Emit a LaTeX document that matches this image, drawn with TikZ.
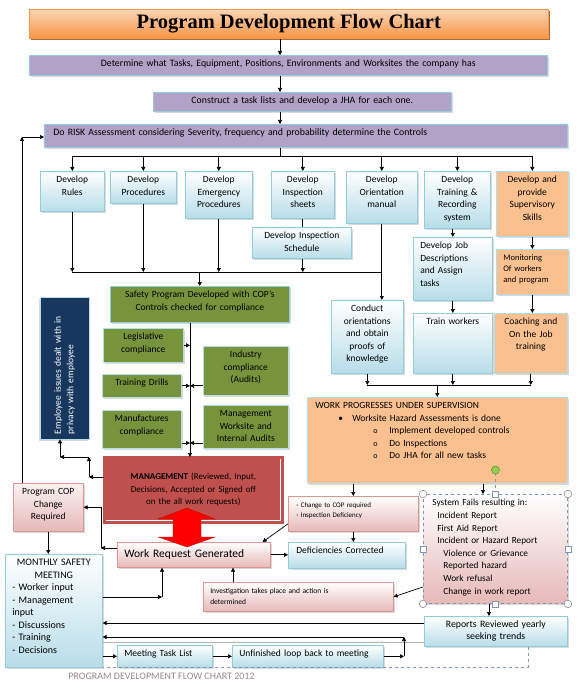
\documentclass[tikz,border=0pt]{standalone}
\usepackage{fontspec}
\setmainfont{Carlito}
\newfontfamily\titlefont{Liberation Serif}
\usetikzlibrary{arrows.meta,positioning,shadows,calc}
\definecolor{flowblue}{HTML}{B7DDE8}
\definecolor{flowedge}{HTML}{93CDDD}
\definecolor{flowpurple}{HTML}{B3A2C7}
\definecolor{floworange}{HTML}{FAC090}
\definecolor{flowgreen}{HTML}{77933C}
\definecolor{flownavy}{HTML}{17375E}
\definecolor{flowred}{HTML}{C0504D}
\definecolor{flowpink}{HTML}{E6B9B8}
\definecolor{flowpinkedge}{HTML}{D99694}
\definecolor{flowtitle}{HTML}{F79646}
\definecolor{flowtitlelight}{HTML}{FCD5B5}
\definecolor{flowtitledark}{HTML}{984807}
\definecolor{flowdash}{HTML}{7F95B3}
\definecolor{flowfoot}{HTML}{948A8A}
\definecolor{flowdot}{HTML}{92D050}
\tikzset{
  sz/.style 2 args={text width=#1-6pt, text height=8.5pt, text depth=#2-14.5pt},
  base/.style={inner xsep=3pt, inner ysep=3pt, align=center, line width=0.6pt, font=\fontsize{9.5}{12.5}\selectfont},
  shad/.style={drop shadow={shadow xshift=1.5pt, shadow yshift=-1.5pt, opacity=0.3}},
  cell/.style={base, shad, anchor=north west},
  bluebox/.style={cell, draw=flowedge, top color=white, bottom color=flowblue},
  purplebox/.style={cell, draw=flowedge, fill=flowpurple, font=\fontsize{9.8}{11}\selectfont},
  orangebox/.style={cell, draw=flowblue, fill=floworange},
  greenbox/.style={cell, draw=flowblue, fill=flowgreen},
  pinkbox/.style={cell, draw=flowpinkedge, top color=flowpink!20, bottom color=flowpink},
  navybox/.style={base, draw=flowblue, fill=flownavy, text=white},
  arrow/.style={-{Triangle[length=4pt,width=4pt]}, line width=0.7pt, draw=black},
  line/.style={line width=0.7pt, draw=black},
  grayline/.style={line width=0.9pt, draw=black!30},
  dashline/.style={dashed, line width=0.6pt, draw=flowdash},
  handle/.style={fill=white, draw=black!45, line width=0.6pt}
}
\begin{document}
\begin{tikzpicture}[x=1pt, y=-1pt]
  \useasboundingbox (0,0) rectangle (579,687);

  \node[base, anchor=north west, draw=flowtitle, top color=flowtitlelight, bottom color=flowtitle, minimum width=519pt, minimum height=29pt,
        drop shadow={shadow xshift=2pt, shadow yshift=-2pt, fill=flowtitledark, opacity=0.8},
        font=\titlefont\bfseries\fontsize{20.5}{24}\selectfont] (title) at (29,9) {Program Development Flow Chart};

  \node[purplebox, sz={518pt}{20pt}] (tasks) at (29,55) {Determine  what Tasks, Equipment,  Positions,  Environments  and Worksites  the company has};
  \node[purplebox, sz={298pt}{19pt}] (jha) at (153,92) {Construct  a task lists and develop a JHA for each one.};
  \node[purplebox, sz={523pt}{23pt}, align=left, inner xsep=9pt, text width=505pt] (risk) at (44,124) {Do RISK Assessment considering  Severity, frequency and probability determine the Controls};

  \node[bluebox, sz={64pt}{40pt}] (rules) at (40,171) {Develop\\Rules};
  \node[bluebox, sz={66pt}{32pt}] (procs) at (110,171) {Develop\\Procedures};
  \node[bluebox, sz={67pt}{47pt}] (emerg) at (185,171) {Develop\\Emergency\\Procedures};
  \node[bluebox, sz={63pt}{47pt}] (insp) at (271,171) {Develop\\Inspection\\sheets};
  \node[bluebox, sz={99pt}{31pt}] (sched) at (252,227) {Develop Inspection\\Schedule};
  \node[bluebox, sz={71pt}{52pt}] (orient) at (346,171) {Develop\\Orientation\\manual};
  \node[bluebox, sz={66pt}{57pt}] (train) at (424,171) {Develop\\Training \&\\Recording\\system};
  \node[orangebox, sz={72pt}{65pt}] (superv) at (496,171) {Develop and\\provide\\Supervisory\\Skills};
  \node[bluebox, sz={79pt}{63pt}, align=left, inner xsep=7pt, text width=65pt] (jobs) at (413,237) {Develop Job\\Descriptions\\and Assign\\tasks};
  \node[orangebox, sz={72pt}{45pt}, align=left, inner xsep=7pt, text width=58pt, font=\fontsize{8.5}{11}\selectfont] (monit) at (496,249) {Monitoring\\Of workers\\and program};
  \node[bluebox, sz={72pt}{73pt}] (conduct) at (331,300) {Conduct\\orientations\\and obtain\\proofs of\\knowledge};
  \node[bluebox, sz={79pt}{60pt}] (trainw) at (413,313) {Train workers};
  \node[orangebox, sz={73pt}{60pt}] (coach) at (494,313) {Coaching  and\\On the Job\\training};
  \node[orangebox, sz={260pt}{86pt}, align=left, inner xsep=8pt, text width=244pt] (work) at (307,397) {WORK PROGRESSES UNDER  SUPERVISION\\
    \hspace*{23pt}\makebox[14pt][l]{\textbullet}Worksite Hazard Assessments is done\\
    \hspace*{58pt}\makebox[16pt][l]{\footnotesize o}Implement developed controls\\
    \hspace*{58pt}\makebox[16pt][l]{\footnotesize o}Do Inspections\\
    \hspace*{58pt}\makebox[16pt][l]{\footnotesize o}Do JHA for all new tasks};

  \node[greenbox, sz={179pt}{36pt}, draw=flowedge] (safety) at (110,286) {Safety Program Developed  with COP's\\Controls  checked  for compliance};
  \node[greenbox, sz={80pt}{34pt}] (legis) at (103,328) {Legislative\\compliance};
  \node[greenbox, sz={85pt}{49pt}] (indus) at (203,346) {Industry\\compliance\\(Audits)};
  \node[greenbox, sz={79pt}{23pt}] (drills) at (102,374) {Training Drills};
  \node[greenbox, sz={79pt}{38pt}] (manuf) at (102,410) {Manufactures\\compliance};
  \node[greenbox, sz={85pt}{43pt}] (mgmtaud) at (203,405) {Management\\Worksite and\\Internal Audits};
  \node[navybox, rotate=90, minimum width=142pt, minimum height=49pt, text width=132pt, align=left,
        drop shadow={shadow xshift=-1.5pt, shadow yshift=-1.5pt, opacity=0.3}] (emp) at (64.5,368) {Employee  issues dealt with in\\privacy with employee};

  \node[base, anchor=north west, fill=flowred, draw=white, double=flowred, double distance=2.5pt, line width=0.7pt,
        minimum width=178pt, minimum height=65pt, text width=170pt, shad, font=\fontsize{9}{12.5}\selectfont] (mgmt) at (104,457)
        {\textbf{MANAGEMENT} (Reviewed,  Input,\\Decisions,  Accepted  or Signed off\\on the all work requests)};
  \node[pinkbox, minimum width=153pt, minimum height=25pt, text width=139pt, inner xsep=7pt, align=left, top color=white,
        font=\fontsize{11.5}{13}\selectfont] (wrg) at (117,542) {Work Request Generated};
  \node[pinkbox, sz={70pt}{48pt}] (pcop) at (13,483) {Program COP\\Change\\Required};
  \node[bluebox, sz={97pt}{113pt}, text width=83pt, inner xsep=7pt, align=left, font=\fontsize{10}{12.5}\selectfont] (monthly) at (5,554)
        {\makebox[83pt]{MONTHLY SAFETY}\\\makebox[83pt]{MEETING}\\- Worker input\\- Management\\input\\- Discussions\\- Training\\- Decisions};
  \node[pinkbox, sz={130pt}{35pt}, text width=114pt, inner xsep=8pt, align=left, top color=white, font=\fontsize{7}{10}\selectfont] (change) at (288,496)
        {- Change to COP required\\- Inspection  Deficiency};
  \node[bluebox, sz={117pt}{26pt}, text width=101pt, inner xsep=8pt, align=left] (defic) at (288,542) {Deficiencies  Corrected};
  \node[pinkbox, sz={190pt}{29pt}, text width=176pt, inner xsep=7pt, align=left, top color=white, font=\fontsize{7.5}{11}\selectfont] (invest) at (203,582)
        {Investigation takes place and action is\\determined};
  \node[pinkbox, sz={144pt}{109pt}, text width=126pt, inner xsep=9pt, align=left, top color=white, draw=flowdash, dashed, line width=0.9pt,
        font=\fontsize{9.3}{12.6}\selectfont] (sysf) at (423,494)
        {System Fails resulting  in:\\
         \hspace*{5pt}Incident  Report\\
         \hspace*{5pt}First Aid Report\\
         \hspace*{5pt}Incident or Hazard Report\\
         \hspace*{11pt}Violence or Grievance\\
         \hspace*{11pt}Reported  hazard\\
         \hspace*{11pt}Work refusal\\
         \hspace*{11pt}Change in work report};
  \node[bluebox, sz={143pt}{30pt}, font=\fontsize{9.8}{12}\selectfont] (reports) at (424,616) {Reports  Reviewed  yearly\\seeking trends};
  \node[bluebox, sz={95pt}{22pt}, text width=81pt, inner xsep=7pt, align=left] (tasklist) at (117,645) {Meeting Task List};
  \node[bluebox, sz={151pt}{22pt}, text width=137pt, inner xsep=7pt, align=left] (unfin) at (232,645) {Unfinished  loop  back to meeting};
  \node[text=flowfoot, font=\fontsize{10}{12}\selectfont] (footer) at (161.5,676) {PROGRAM DEVELOPMENT  FLOW CHART 2012};

  \coordinate (spine) at (280,0);
  \coordinate (bus) at (280,156);
  \draw[arrow] (title.south -| spine) -- (tasks.north -| spine);
  \draw[arrow] (tasks.south -| spine) -- (jha.north -| spine);
  \draw[arrow] (jha.south -| spine) -- (risk.north -| spine);
  \draw[line] (risk.south -| spine) -- (bus);
  \draw[line] (bus -| rules) -- (bus -| superv);
  \foreach \n in {rules,procs,emerg,insp,orient,train,superv}
    \draw[arrow] (bus -| \n) -- (\n.north);

  \coordinate (busb) at (0,272);
  \draw[line] (busb -| rules) -- (busb -| orient);
  \foreach \n in {rules,procs,emerg}
    \draw[arrow] (\n.south) -- (busb -| \n);
  \draw[line] (insp.south) -- (sched.north -| insp.south);
  \draw[arrow] (sched.south -| insp) -- (busb -| insp);
  \draw[arrow] (orient.south) -- (conduct.north -| orient.south);
  \draw[arrow] (busb -| safety) -- (safety.north);
  \draw[arrow] (train.south -| jobs) -- (jobs.north);
  \draw[arrow] (superv.south) -- (monit.north);
  \draw[arrow] (jobs.south) -- (trainw.north);
  \draw[arrow] (monit.south) -- (coach.north -| monit.south);

  \coordinate (busc) at (0,385);
  \foreach \n in {conduct,trainw,coach}
    \draw[arrow] (\n.south) -- (busc -| \n);
  \draw[line] (busc -| conduct) -- (busc -| coach);
  \draw[arrow] (busc -| work) -- (work.north);

  \coordinate (cspine) at (190,0);
  \coordinate (manufy) at (0,443);
  \draw[arrow] (safety.south -| cspine) -- (mgmt.north -| cspine);
  \draw[arrow] (legis.east) -- (legis.east -| cspine);
  \draw[arrow] (drills.east) -- (drills.east -| cspine);
  \draw[arrow] (indus.west |- drills.east) -- (drills.east -| cspine);
  \draw[arrow] (manuf.east |- manufy) -- (manufy -| cspine);
  \draw[arrow] (mgmtaud.west |- manufy) -- (manufy -| cspine);

  \coordinate (empa) at (89,477);
  \coordinate (empb) at (89,457);
  \coordinate (empc) at (60,457);
  \draw[arrow] (mgmt.west |- empa) -- (empa);
  \draw[arrow] (empa) -- (empb);
  \draw[arrow] (empb) -- (empc);
  \draw[arrow] (empc) -- (empc |- emp.west);

  \coordinate (loopl) at (22,137);
  \draw[arrow] (pcop.north -| loopl) -- (loopl);
  \draw[arrow] (loopl) -- (risk.west |- loopl);
  \draw[arrow] (pcop.south) -- (monthly.north -| pcop.south);

  \coordinate (wrgl) at (101,548);
  \draw[arrow] (wrg.west |- wrgl) -- (wrgl);
  \draw[arrow] (wrgl) |- (pcop.east);
  \coordinate (mwa) at (162,597);
  \draw[arrow] (monthly.east |- mwa) -- (mwa);
  \draw[arrow] (mwa) -- (wrg.south -| mwa);
  \coordinate (invx) at (233,0);
  \draw[arrow] (invest.north -| invx) -- (wrg.south -| invx);

  \coordinate (sysx) at (483,0);
  \coordinate (repx) at (489,0);
  \draw[arrow] (work.south -| change) -- (change.north);
  \draw[arrow] (work.south -| sysx) -- (sysf.north -| sysx);
  \draw[arrow] ([yshift=-10pt]change.west) -- ([xshift=-8pt]wrg.north east);
  \draw[arrow] (change.south) -- (defic.north -| change.south);
  \draw[arrow] (wrg.east) -- (defic.west |- wrg.east);
  \draw[arrow] ([yshift=-38pt]sysf.west) -- (invest.east);
  \draw[arrow] (sysf.south -| repx) -- (reports.north -| repx);

  \coordinate (repa) at (0,623);
  \coordinate (repb) at (0,642);
  \coordinate (loopr) at (404,637);
  \draw[arrow] (reports.west |- repa) -- (monthly.east |- repa);
  \draw[grayline] (reports.west |- repb) -- (monthly.east |- repb);
  \draw[arrow] (unfin.east) -- (loopr |- unfin.east);
  \draw[arrow] (loopr |- unfin.east) -- (loopr);
  \draw[arrow] (loopr) -- (monthly.east |- loopr);
  \draw[arrow] (monthly.east |- tasklist) -- (tasklist.west);
  \draw[arrow] (tasklist.east) -- (unfin.west);
  \coordinate (dashc) at (528,667);
  \draw[dashline] (reports.south -| dashc) -- (dashc) -- (monthly.south east |- dashc);

  \coordinate (rot) at ($(sysf.north)+(0,-24)$);
  \draw[dashline] (sysf.north) -- (rot);
  \draw[fill=flowdot, draw=flowdot!70!black, line width=0.6pt] (rot) circle (4);
  \foreach \a in {north west,north east,south west,south east}
    \draw[handle] (sysf.\a) circle (3.8);
  \foreach \a in {north,south,east,west}
    \draw[handle, draw=flowdash] ($(sysf.\a)+(-3,-3)$) rectangle ++(6,6);

  \fill[red, draw=red!75!black, line width=0.3pt] (187,508) -- (215,519) -- (201,519) -- (201,537) -- (215,537) -- (187,547)
    -- (158,537) -- (173,537) -- (173,519) -- (158,519) -- cycle;
\end{tikzpicture}
\end{document}
